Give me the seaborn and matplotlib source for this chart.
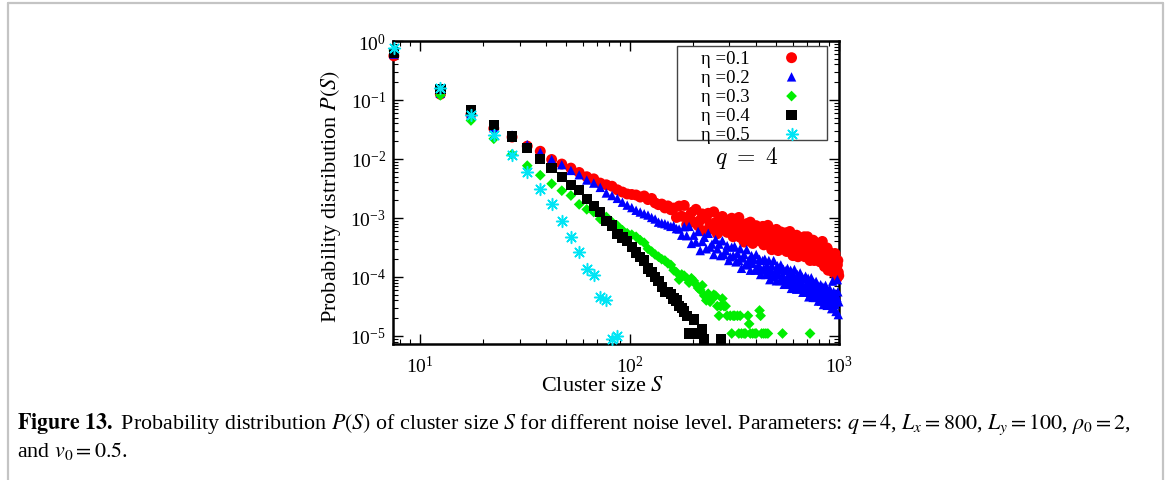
import numpy as np
import pandas as pd
import matplotlib
matplotlib.use("Agg")
import matplotlib.pyplot as plt
from matplotlib.lines import Line2D
from matplotlib.patches import Rectangle
from matplotlib.ticker import LogLocator, NullFormatter
import seaborn as sns

sns.set_theme(style="ticks", rc={"axes.edgecolor": "black", "xtick.color": "black",
                                  "ytick.color": "black", "text.color": "black",
                                  "axes.labelcolor": "black"})
plt.rcParams["font.family"] = ["Liberation Serif", "DejaVu Serif"]
plt.rcParams["mathtext.fontset"] = "stix"

# Cluster-size bins of width 5, centred at 7.5, 12.5, ..., 997.5
size_bins = np.arange(7.5, 1000.0, 5.0)

# P(S) per bin for each noise level, listed in units of 1e-5 (nan = empty bin)
P_UNIT = 1e-5
nan = np.nan

prob_eta_01 = [
    56000, 12500, 5700, 3300, 2350, 1650, 1350, 980, 820, 700,
    590, 500, 460, 390, 365, 345, 300, 275, 255, 250,
    245, 226, 236, 205, 214, 180, 168, 172, 148, 160, 138,
    147, 102, 159, 107, 163, 77, 106, 124, 85, 140,
    74, 92, 117, 60, 99, 120, 76, 65, 127, 84,
    54, 91, 69, 106, 62, 80, 57, 92, 64, 99,
    48, 67, 79, 54, 102, 47, 59, 76, 39, 65,
    80, 51, 44, 85, 56, 37, 63, 48, 74, 44,
    57, 41, 66, 46, 72, 35, 49, 57, 39, 75,
    35, 44, 56, 29, 49, 60, 38, 33, 64, 43,
    28, 48, 37, 58, 34, 44, 32, 52, 36, 56,
    27, 38, 45, 31, 59, 27, 34, 44, 23, 38,
    47, 30, 26, 51, 34, 22, 38, 29, 45, 27,
    35, 25, 41, 28, 48, 22, 31, 36, 25, 48,
    23, 28, 36, 19, 32, 39, 25, 22, 42, 28,
    19, 32, 24, 38, 22, 29, 21, 34, 24, 37,
    18, 26, 30, 21, 40, 19, 23, 30, 15, 26,
    30, 19, 16, 31, 20.5, 13, 23, 17, 26, 16,
    20, 14, 23, 16, 24, 12, 16.5, 19, 13, 25,
    11.5, 14, 18, 9.5, 16, 19, 12, 10.5,
]

prob_eta_02 = [
    60000, 13000, 5800, 3400, 2550, 1750, 1300, 980, 800, 640,
    540, 440, 390, 330, 265, 240, 215, 185, 165, 150,
    135, 126, 118, 112, 102, 96, 85, 82, 80, 76, 72, 74, 66, 65,
    51, 71, 50, 72, 37, 51, 39, 59, 28, 40,
    47, 30, 55, 32, 36, 24, 43, 30, 36, 23,
    41, 24, 28, 34, 19, 22, 32, 23, 33, 18,
    25, 19, 30, 14, 21, 24, 16, 29, 17, 19.5,
    13, 23, 17, 20, 13, 24, 14, 16, 20, 11,
    13, 19, 14, 20, 11, 15.5, 12, 19, 9, 13,
    15.6, 10, 19, 11, 12.8, 8.6, 15.5, 11.2, 13.3, 8.7,
    16, 9.3, 11, 13.5, 7.5, 8.7, 12.8, 9.3, 14, 7.5,
    10.7, 8.3, 13, 6.4, 9.3, 11, 7.2, 13.4, 7.8, 9.2,
    6.2, 11, 8.1, 9.7, 6.3, 11.7, 6.7, 8, 9.9, 5.5,
    6.4, 9.3, 6.8, 10.3, 5.5, 7.8, 6.1, 9.5, 4.6, 6.8,
    8, 5.2, 9.7, 5.7, 6.7, 4.5, 8, 5.8, 6.9, 4.5,
    8.4, 4.8, 5.7, 7.1, 3.9, 4.6, 6.7, 4.9, 7.4, 3.9,
    5.7, 4.4, 6.8, 3.4, 5, 5.8, 3.8, 7.2, 4.2, 4.9,
    3.3, 5.9, 4.3, 5.2, 3.4, 6.3, 3.6, 4.3, 5.3, 2.9,
    3.4, 8.5, 3.7, 5.6, 3.0, 4.3, 3.4, 5.2, 2.6, 3.8,
    4.5, 9.0, 5.6, 2.3, 3.8,
]

prob_eta_03 = [
    68000, 12000, 4500, 2200, 1200, 770, 530, 380, 290, 240,
    170, 140, 126, 96, 104, 85, 74, 62, 55, 52,
    48, 42, 38, 30, 27, 24, 22, 20, 19, 17,
    16, 13, 12, 9, 11, 10.5, 9.5, 8, 9.5, 8.6,
    7.5, 6.5, 6, 7.2, 4.8, 4, 5.2, 3.8, 4.3, 5,
    4.8, 3.2, 2.2, 3.2, 4.3, 3.2, 3.2, 2.2,
]
# sparse large-S tail of eta = 0.3 (only occupied bins)
tail_sizes_eta_03 = [302.5, 307.5, 312.5, 317.5, 327.5, 332.5, 337.5, 342.5,
                     352.5, 357.5, 367.5, 372.5, 377.5, 387.5, 397.5, 402.5,
                     417.5, 422.5, 427.5, 437.5, 447.5, 457.5, 537.5, 727.5]
tail_prob_eta_03 = [2.2, 1.1, 2.2, 2.2, 2.2, 1.1, 2.2, 1.1,
                    1.1, 1.1, 2.2, 1.6, 1.1, 1.1, 1.1, 1.1,
                    2.7, 2.2, 1.1, 1.1, 1.1, 1.1, 1.1, 1.1]

prob_eta_04 = [
    63000, 15500, 6800, 3800, 2400, 1550, 1000, 710, 500, 360,
    300, 210, 158, 126, 88, 75, 53, 47, 41, 32,
    26, 22, 19, 14, 12, 10, 8.6, 6.8, 5.5, 5.5,
    5.2, 4.3, 4.0, 3.2, 3.0, 2.6, 2.2, 1.1, 1.1, 1.9,
    1.1, nan, nan, 1.3, 0.88, nan, nan, nan, nan, nan,
    nan, nan, nan, 0.88,
]

prob_eta_05 = [
    75000, 16000, 5600, 2550, 1180, 610, 310, 170, 88, 47,
    27, 13.7, 11, 4.6, 4.1, 0.9, 1.0,
]

noise_labels = ["η =0.1", "η =0.2", "η =0.3", "η =0.4", "η =0.5"]


def series_frame(sizes, probs, label):
    df = pd.DataFrame({"S": np.asarray(sizes, dtype=float),
                       "P": np.asarray(probs, dtype=float) * P_UNIT})
    df["noise"] = label
    return df.dropna()


data = pd.concat([
    series_frame(size_bins[:len(prob_eta_01)], prob_eta_01, noise_labels[0]),
    series_frame(size_bins[:len(prob_eta_02)], prob_eta_02, noise_labels[1]),
    series_frame(size_bins[:len(prob_eta_03)], prob_eta_03, noise_labels[2]),
    series_frame(tail_sizes_eta_03, tail_prob_eta_03, noise_labels[2]),
    series_frame(size_bins[:len(prob_eta_04)], prob_eta_04, noise_labels[3]),
    series_frame(size_bins[:len(prob_eta_05)], prob_eta_05, noise_labels[4]),
], ignore_index=True)

marker_styles = {
    noise_labels[0]: dict(marker="o", color="#ff0000", s=62),
    noise_labels[1]: dict(marker="^", color="#0000ff", s=46),
    noise_labels[2]: dict(marker="D", color="#00ee00", s=30),
    noise_labels[3]: dict(marker="s", color="#000000", s=56),
    noise_labels[4]: dict(marker=(8, 2, 0), color="#00e5f5", s=72),
}

fig = plt.figure(figsize=(11.67, 4.81), dpi=100)
ax = fig.add_axes([393 / 1167, 1 - 345 / 481, 446 / 1167, 303 / 481])

for label in noise_labels:
    st = marker_styles[label]
    sub = data[data["noise"] == label]
    if label == noise_labels[4]:
        extra = dict(linewidth=1.1)
    else:
        extra = dict(linewidth=0, edgecolor="none")
    sns.scatterplot(data=sub, x="S", y="P", ax=ax, label=label,
                    clip_on=False, zorder=3, **st, **extra)

ax.set_xscale("log")
ax.set_yscale("log")
ax.set_xlim(7.43, 1000)
ax.set_ylim(7.3e-6, 1.0)
for axis in (ax.xaxis, ax.yaxis):
    axis.set_major_locator(LogLocator(base=10, numticks=12))
    axis.set_minor_locator(LogLocator(base=10, subs=np.arange(2, 10), numticks=12))
    axis.set_minor_formatter(NullFormatter())

ax.tick_params(which="both", direction="in", top=True, right=True)
ax.tick_params(which="major", length=7, width=1.0, labelsize=14)
ax.tick_params(axis="x", which="major", pad=8)
ax.tick_params(axis="y", which="major", pad=5)
ax.tick_params(which="minor", length=3.5, width=0.8)
for spine in ax.spines.values():
    spine.set_linewidth(1.8)
    spine.set_color("black")

ax.set_xlabel("Cluster size $S$", fontsize=16)
ax.set_ylabel("Probability distribution $P(S)$", fontsize=16)
ax.xaxis.set_label_coords(0.469, -0.106)
ax.yaxis.set_label_coords(-0.111, 0.49)

# legend: labels on the left, markers on the right, inside a thin box
leg = ax.legend(loc="upper left", bbox_to_anchor=(0.690, 0.972),
                markerfirst=False, frameon=False, fontsize=13.5,
                handlelength=1.0, handletextpad=1.75, borderpad=0.0,
                labelspacing=0.11, borderaxespad=0)
ax.add_patch(Rectangle((0.637, 0.673), 0.336, 0.311, transform=ax.transAxes,
                       fill=False, edgecolor="#444444", linewidth=1.0, zorder=4))

ax.text(0.793, 0.618, r"$q\ =\ 4$", transform=ax.transAxes, ha="center",
        va="center", fontsize=17, math_fontfamily="cm")

caption_line1 = (r"$\mathbf{Figure\ 13.}$ Probability distribution $P(S)$ of cluster size $S$ "
                 r"for different noise level. Parameters: $q=4$, $L_x=800$, $L_y=100$, "
                 r"$\rho_0=2$,")
caption_line2 = r"and $v_0=0.5$."
fig.text(17 / 1167, 1 - 424 / 481, caption_line1, fontsize=15.8, va="center", ha="left")
fig.text(17 / 1167, 1 - 451 / 481, caption_line2, fontsize=15.8, va="center", ha="left")

# light page frame around the figure block
frame_kw = dict(transform=fig.transFigure, color="#c4c4c4", linewidth=1.6)
fig.add_artist(Line2D([8 / 1167, 8 / 1167], [0, 1 - 4 / 481], **frame_kw))
fig.add_artist(Line2D([8 / 1167, 1163 / 1167], [1 - 4 / 481, 1 - 4 / 481], **frame_kw))
fig.add_artist(Line2D([1163 / 1167, 1163 / 1167], [0, 1 - 4 / 481], **frame_kw))

fig.savefig("out.png", dpi=100)
